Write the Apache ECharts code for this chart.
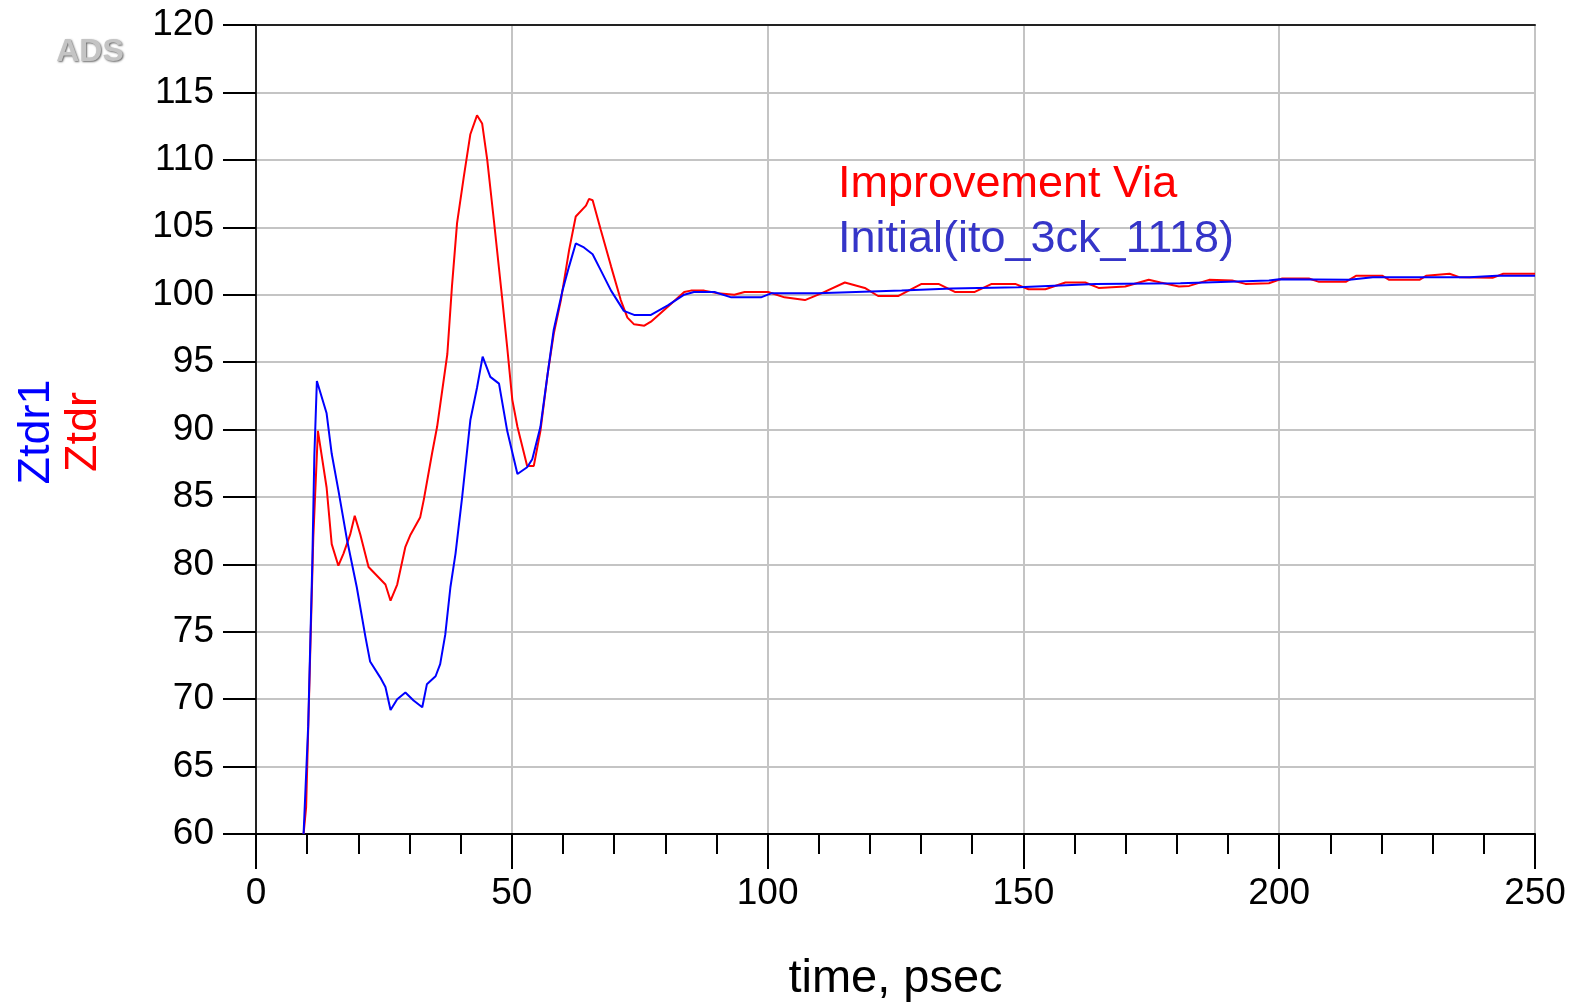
<!DOCTYPE html>
<html>
<head>
<meta charset="utf-8">
<script src="https://cdn.jsdelivr.net/npm/echarts@6/dist/echarts.min.js"></script>
<style>
html, body { margin: 0; padding: 0; background: #fff; }
#main { width: 1571px; height: 1008px; }
</style>
</head>
<body>
<div id="main"></div>
<script>
// time in psec, impedance in ohm
var redTime = [9.3, 9.8, 10.5, 11.2, 12.1, 13.8, 14.8, 16.1, 17.1, 18.4,
  19.3, 20.4, 22.0, 25.3, 26.3, 27.6, 29.2, 30.2, 32.1, 32.8,
  34.4, 35.4, 37.4, 38.3, 39.3, 40.6, 41.9, 43.2, 44.2, 45.2,
  46.5, 48.1, 49.1, 50.1, 51.1, 53.0, 54.3, 55.6, 57.0, 58.2,
  59.6, 61.2, 62.5, 64.5, 65.1, 65.8, 67.4, 69.4, 71.3, 72.6,
  73.9, 75.9, 77.2, 80.5, 83.7, 85.0, 87.6, 90.3, 93.5, 95.5,
  100.1, 103.3, 107.3, 110.5, 115.1, 119.0, 121.6, 125.5, 130.1, 133.4,
  136.6, 140.5, 143.8, 148.4, 151.0, 154.3, 158.2, 162.1, 164.7, 169.9,
  174.5, 176.8, 180.4, 182.4, 186.3, 190.8, 193.4, 198.0, 200.6, 205.8,
  207.8, 213.0, 215.0, 220.2, 221.5, 227.4, 228.7, 233.3, 235.2, 241.7,
  243.8, 250];
var redZ = [60, 62, 72, 82, 89.9, 85.7, 81.5, 79.9, 80.8, 82.2,
  83.6, 82.2, 79.8, 78.5, 77.3, 78.5, 81.3, 82.2, 83.5, 84.8,
  88.2, 90.2, 95.6, 100.6, 105.3, 108.7, 111.9, 113.3, 112.7, 110.0,
  105.5, 99.8, 96.1, 92.2, 90.2, 87.3, 87.3, 89.9, 94.1, 97.1,
  99.6, 103.3, 105.8, 106.6, 107.1, 107.0, 104.8, 102.1, 99.6, 98.3,
  97.8, 97.7, 98.0, 99.1, 100.2, 100.3, 100.3, 100.1, 100.0, 100.2,
  100.2, 99.8, 99.6, 100.1, 100.9, 100.5, 99.9, 99.9, 100.8, 100.8,
  100.2, 100.2, 100.8, 100.8, 100.4, 100.4, 100.9, 100.9, 100.5, 100.6,
  101.1, 100.9, 100.6, 100.65, 101.1, 101.05, 100.8, 100.85, 101.2, 101.2,
  100.95, 100.95, 101.4, 101.4, 101.1, 101.1, 101.4, 101.55, 101.3, 101.25,
  101.55, 101.55];

var blueTime = [9.3, 10.2, 11.0, 11.4, 11.9, 13.8, 14.8, 16.1, 17.8, 19.7,
  21.4, 22.3, 24.3, 25.3, 26.3, 27.6, 29.2, 30.8, 32.5, 33.4,
  35.1, 36.0, 37.0, 38.0, 39.0, 40.3, 41.9, 43.2, 44.3, 45.8,
  47.5, 49.1, 51.1, 53.0, 54.0, 55.6, 57.0, 58.2, 59.9, 61.2,
  62.5, 64.1, 65.8, 67.4, 69.4, 71.9, 73.9, 77.2, 80.5, 83.7,
  85.6, 89.6, 92.9, 94.8, 98.7, 100.7, 109.8, 126.2, 136.0, 149.0,
  164.1, 180.7, 198.0, 200.0, 213.7, 218.3, 237.2, 242.5, 250];
var blueZ = [60, 68, 80, 88, 93.6, 91.2, 88.2, 85.5, 81.8, 78.3,
  74.6, 72.8, 71.6, 70.9, 69.2, 70.0, 70.5, 69.9, 69.4, 71.1,
  71.7, 72.6, 74.8, 78.3, 80.8, 85.0, 90.7, 93.1, 95.4, 93.9,
  93.4, 89.9, 86.7, 87.2, 87.8, 90.2, 94.1, 97.4, 100.3, 102.1,
  103.8, 103.5, 103.0, 101.8, 100.3, 98.8, 98.5, 98.5, 99.2, 100.0,
  100.2, 100.2, 99.8, 99.8, 99.8, 100.1, 100.1, 100.3, 100.45, 100.55,
  100.8, 100.85, 101.05, 101.15, 101.1, 101.3, 101.3, 101.4, 101.4];

var seriesNames = ['Improvement Via', 'Initial(ito_3ck_1118)'];
var xRange = [0, 250];
var yRange = [60, 120];

function zip(t, v) {
  var out = [];
  for (var i = 0; i < t.length; i++) out.push([t[i], v[i]]);
  return out;
}

var font = '"Liberation Sans", Arial, sans-serif';
var myChart = echarts.init(document.getElementById('main'));

var option = {
  animation: false,
  backgroundColor: '#fff',
  grid: { left: 256, right: 36, top: 25, bottom: 173 },
  legend: {
    orient: 'vertical',
    left: 828,
    top: 157,
    icon: 'none',
    itemWidth: 0,
    itemHeight: 0,
    itemGap: 10,
    selectedMode: false,
    textStyle: { fontSize: 45, fontFamily: font },
    data: [
      { name: seriesNames[0], textStyle: { color: '#ff0000' } },
      { name: seriesNames[1], textStyle: { color: '#3535c8' } }
    ]
  },
  xAxis: [{
    type: 'value',
    min: xRange[0],
    max: xRange[1],
    interval: 50,
    name: 'time, psec',
    nameLocation: 'middle',
    nameGap: 122,
    nameTextStyle: { fontSize: 47, color: '#000', fontFamily: font },
    axisLine: { lineStyle: { color: '#000', width: 2 } },
    axisTick: { length: 35, lineStyle: { color: '#000', width: 2 } },
    minorTick: { show: true, splitNumber: 5, length: 20, lineStyle: { color: '#000', width: 2 } },
    axisLabel: { fontSize: 37, color: '#000', margin: 41, fontFamily: font },
    splitLine: { show: true, lineStyle: { color: '#c4c4c4', width: 2 } }
  }, {
    type: 'value',
    position: 'top',
    min: xRange[0],
    max: xRange[1],
    axisLine: { show: true, lineStyle: { color: '#222', width: 2 } },
    axisTick: { show: false },
    axisLabel: { show: false },
    splitLine: { show: false }
  }],
  yAxis: [{
    type: 'value',
    min: yRange[0],
    max: yRange[1],
    interval: 5,
    axisLine: { show: true, lineStyle: { color: '#000', width: 2 } },
    axisTick: { show: true, length: 33, lineStyle: { color: '#000', width: 2 } },
    axisLabel: { fontSize: 37, color: '#000', margin: 42, fontFamily: font },
    splitLine: { show: true, lineStyle: { color: '#c4c4c4', width: 2 } }
  }, {
    type: 'value',
    position: 'right',
    min: yRange[0],
    max: yRange[1],
    axisLine: { show: true, lineStyle: { color: '#222', width: 2 } },
    axisTick: { show: false },
    axisLabel: { show: false },
    splitLine: { show: false }
  }],
  graphic: [{
    type: 'text',
    x: 90,
    y: 52,
    style: {
      text: 'ADS',
      fontSize: 32,
      fontWeight: 'bold',
      fontFamily: font,
      fill: '#c4c4c4',
      align: 'center',
      verticalAlign: 'middle',
      textShadowColor: 'rgba(70,70,70,0.8)',
      textShadowBlur: 2,
      textShadowOffsetX: 1,
      textShadowOffsetY: 1
    }
  }, {
    type: 'text',
    x: 60,
    y: 432,
    rotation: Math.PI / 2,
    style: {
      text: '{b|Ztdr1}\n{r|Ztdr}',
      align: 'center',
      verticalAlign: 'middle',
      rich: {
        b: { fontSize: 45, lineHeight: 47, fontFamily: font, fill: '#0000ff', align: 'center' },
        r: { fontSize: 45, lineHeight: 47, fontFamily: font, fill: '#ff0000', align: 'center' }
      }
    }
  }],
  series: [{
    name: seriesNames[0],
    type: 'line',
    data: zip(redTime, redZ),
    showSymbol: false,
    symbol: 'none',
    lineStyle: { color: '#ff0000', width: 2 },
    itemStyle: { color: '#ff0000' }
  }, {
    name: seriesNames[1],
    type: 'line',
    data: zip(blueTime, blueZ),
    showSymbol: false,
    symbol: 'none',
    lineStyle: { color: '#0000ff', width: 2 },
    itemStyle: { color: '#0000ff' }
  }]
};

myChart.setOption(option);
</script>
</body>
</html>
